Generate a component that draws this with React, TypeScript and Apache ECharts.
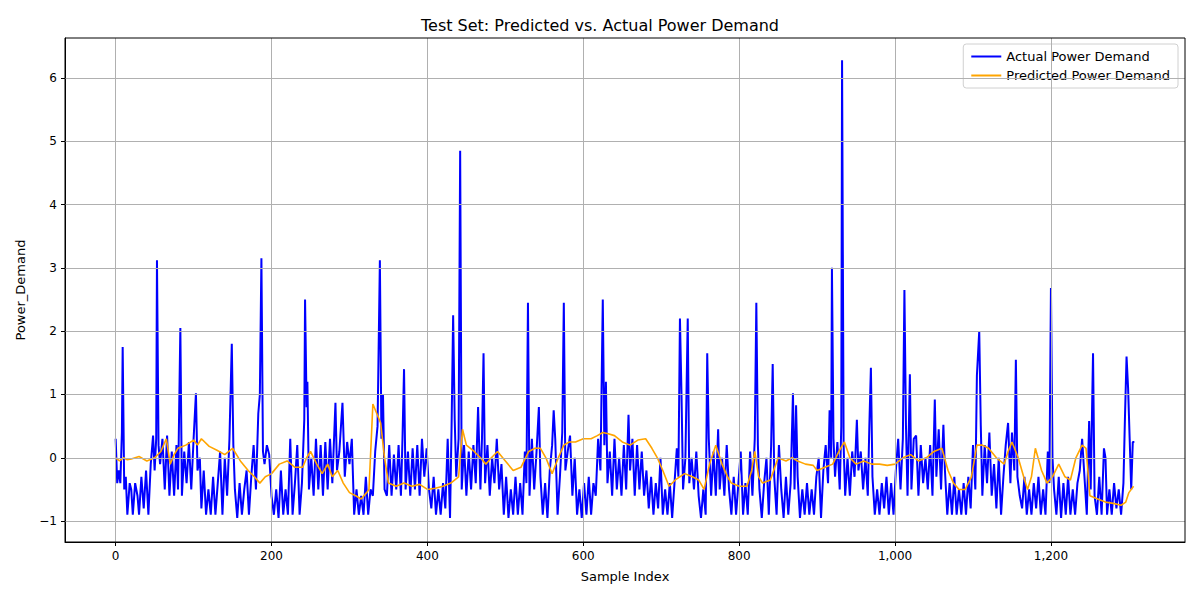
import React, { useEffect, useRef } from "react";
import * as echarts from "echarts";

const actual: [number, number][] = [[0,0.3],[2,-0.4],[4,-0.2],[6,-0.4],[8,0.4],[9,1.75],[11,-0.5],[13,-0.3],[15,-0.9],[18,-0.4],[20,-0.5],[22,-0.9],[25,-0.4],[28,-0.6],[30,-0.9],[33,-0.3],[36,-0.8],[39,-0.2],[42,-0.9],[45,-0.1],[48,0.35],[50,-0.2],[52,0.3],[53,3.12],[55,0.2],[57,-0.1],[60,0.3],[63,-0.5],[66,0.35],[69,-0.6],[72,0.1],[75,-0.6],[78,0.2],[80,-0.5],[83,2.05],[85,-0.6],[88,0.1],[91,-0.4],[94,0.25],[97,-0.5],[100,0.3],[103,1.02],[105,-0.2],[108,0.0],[110,-0.8],[113,-0.2],[116,-0.9],[119,-0.5],[122,-0.9],[125,-0.3],[128,-0.9],[131,-0.4],[134,0.1],[137,-0.9],[140,0.0],[143,-0.6],[146,0.3],[149,1.8],[151,0.2],[153,-0.5],[156,-0.95],[159,-0.4],[162,-0.9],[165,-0.5],[168,-0.2],[171,-0.9],[174,-0.3],[177,0.2],[180,-0.5],[183,0.7],[185,1.0],[187,3.15],[189,0.1],[191,-0.1],[194,0.2],[197,0.05],[200,-0.6],[203,-0.9],[206,-0.5],[209,-0.95],[212,-0.2],[215,-0.9],[218,-0.5],[221,-0.9],[224,0.3],[227,-0.9],[230,-0.4],[233,0.2],[236,-0.9],[239,-0.4],[242,0.6],[243,2.5],[245,0.8],[246,1.2],[248,-0.5],[251,0.0],[254,-0.6],[257,0.3],[260,-0.5],[263,0.2],[266,-0.6],[269,0.25],[272,-0.5],[275,0.3],[278,-0.4],[282,0.87],[284,-0.2],[287,0.1],[291,0.87],[294,-0.3],[297,0.25],[300,-0.1],[303,0.3],[306,-0.9],[309,-0.5],[312,-0.9],[315,-0.6],[318,-0.9],[321,-0.3],[324,-0.9],[327,-0.5],[330,-0.6],[333,0.1],[336,0.5],[339,3.12],[341,0.3],[343,1.0],[345,-0.5],[348,-0.6],[351,0.2],[354,-0.6],[357,0.05],[360,-0.5],[363,0.2],[366,-0.6],[368,0.3],[370,1.4],[372,-0.5],[375,0.1],[378,-0.6],[381,0.15],[384,-0.5],[387,0.2],[390,-0.6],[393,0.3],[396,-0.3],[399,0.15],[402,-0.5],[405,-0.8],[408,-0.3],[411,-0.9],[414,-0.5],[417,-0.9],[420,-0.4],[423,-0.8],[426,0.3],[429,-0.95],[431,0.5],[433,2.25],[435,0.6],[437,-0.3],[440,0.3],[442,4.85],[444,-0.5],[447,0.2],[450,-0.6],[453,0.1],[456,-0.5],[459,0.2],[462,-0.4],[465,0.8],[468,-0.5],[470,0.3],[472,1.65],[474,-0.4],[477,0.2],[480,-0.6],[483,0.0],[486,-0.4],[489,0.3],[492,-0.5],[495,-0.1],[498,-0.9],[501,-0.3],[504,-0.95],[507,-0.5],[510,-0.9],[513,-0.3],[516,-0.9],[519,-0.4],[522,-0.9],[525,0.1],[527,-0.4],[529,2.45],[531,-0.6],[534,0.3],[537,-0.5],[540,0.1],[543,0.8],[545,-0.3],[548,-0.9],[551,-0.4],[554,-0.95],[557,-0.2],[560,0.2],[562,0.75],[564,0.3],[567,-0.9],[570,-0.3],[573,0.4],[575,2.45],[577,-0.2],[580,0.1],[583,0.35],[586,-0.6],[589,0.0],[592,-0.9],[595,-0.5],[598,-0.95],[601,-0.4],[604,-0.9],[607,-0.3],[610,-0.9],[613,-0.4],[616,-0.6],[619,0.3],[622,-0.2],[625,2.5],[627,0.2],[629,1.2],[631,-0.4],[634,0.1],[637,-0.6],[640,0.3],[643,-0.5],[646,0.0],[649,-0.6],[652,0.2],[655,-0.5],[658,0.68],[660,-0.2],[663,0.3],[666,-0.6],[669,0.2],[672,-0.5],[675,0.1],[678,-0.6],[681,-0.2],[684,-0.8],[687,-0.3],[690,-0.9],[693,-0.4],[696,-0.8],[699,0.0],[702,-0.9],[705,-0.5],[708,-0.9],[711,-0.4],[714,-0.95],[717,-0.4],[720,0.15],[722,-0.3],[724,2.2],[726,1.0],[728,-0.5],[731,0.0],[734,2.2],[736,-0.4],[739,0.0],[742,-0.5],[745,0.1],[748,-0.6],[751,-0.95],[754,-0.5],[757,-0.9],[759,1.65],[761,0.3],[764,-0.6],[767,0.1],[770,-0.6],[773,0.45],[775,-0.5],[778,0.0],[781,-0.6],[784,0.2],[787,-0.5],[790,-0.9],[793,-0.3],[796,-0.9],[799,-0.4],[802,0.1],[805,-0.9],[808,-0.4],[811,-0.9],[814,0.1],[817,-0.6],[820,0.3],[822,2.45],[824,0.2],[826,-0.5],[829,-0.95],[832,-0.4],[835,0.0],[838,-0.9],[841,0.2],[843,1.48],[845,-0.3],[848,-0.9],[851,0.2],[854,-0.5],[857,-0.95],[860,-0.3],[863,-0.9],[866,-0.4],[869,1.02],[871,-0.5],[873,0.83],[875,-0.3],[878,-0.95],[881,-0.5],[884,-0.9],[887,-0.4],[890,-0.9],[893,-0.5],[896,-0.9],[899,-0.3],[902,0.0],[905,-0.95],[908,-0.2],[911,0.2],[914,-0.4],[916,0.75],[918,0.0],[919,3.0],[921,0.3],[923,-0.3],[926,0.25],[929,-0.5],[931,0.5],[932,6.28],[934,0.2],[936,-0.6],[939,0.0],[942,-0.6],[945,0.1],[948,-0.3],[951,0.6],[953,-0.2],[956,0.1],[959,-0.5],[962,0.0],[965,-0.6],[967,0.5],[969,1.42],[971,-0.3],[974,-0.9],[977,-0.5],[980,-0.9],[983,-0.4],[986,-0.8],[989,-0.3],[992,-0.9],[995,-0.4],[998,-0.9],[1001,-0.2],[1004,0.3],[1007,-0.5],[1010,0.3],[1012,2.65],[1014,0.5],[1016,-0.6],[1019,1.32],[1021,-0.5],[1024,0.3],[1027,0.35],[1030,-0.6],[1033,0.2],[1036,-0.4],[1039,0.0],[1042,-0.5],[1045,0.2],[1048,-0.6],[1051,0.92],[1053,-0.3],[1056,0.45],[1059,-0.5],[1062,0.52],[1064,-0.2],[1067,-0.9],[1070,-0.4],[1073,-0.9],[1076,-0.3],[1079,-0.9],[1082,-0.5],[1085,-0.9],[1088,-0.4],[1091,-0.9],[1094,-0.3],[1097,-0.8],[1100,0.2],[1103,-0.5],[1105,1.3],[1108,2.0],[1110,0.5],[1112,-0.6],[1115,0.2],[1118,-0.4],[1121,0.4],[1124,-0.6],[1127,-0.1],[1130,-0.8],[1133,0.0],[1136,-0.9],[1139,-0.3],[1142,0.2],[1145,0.55],[1148,-0.4],[1150,0.4],[1153,-0.2],[1155,1.55],[1157,-0.3],[1160,-0.6],[1163,-0.8],[1166,-0.3],[1169,-0.9],[1172,-0.5],[1175,-0.9],[1178,-0.4],[1181,-0.8],[1184,-0.3],[1187,-0.9],[1190,-0.5],[1193,-0.9],[1196,0.1],[1198,-0.4],[1200,2.68],[1202,0.0],[1204,-0.5],[1207,-0.9],[1210,-0.3],[1213,-0.95],[1216,-0.4],[1219,-0.9],[1222,-0.3],[1225,-0.9],[1228,-0.5],[1231,-0.9],[1234,-0.4],[1237,-0.2],[1240,0.3],[1243,-0.3],[1246,-0.9],[1249,0.58],[1251,-0.5],[1254,1.65],[1256,-0.6],[1259,-0.9],[1262,-0.3],[1265,-0.9],[1268,0.15],[1270,0.0],[1272,-0.9],[1275,-0.5],[1278,-0.9],[1281,-0.4],[1284,-0.8],[1287,-0.5],[1290,-0.9],[1293,-0.4],[1295,0.65],[1297,1.6],[1299,1.1],[1301,0.3],[1303,-0.5],[1305,0.25],[1307,0.25]];

const predicted: [number, number][] = [[0,0.0],[5,-0.05],[10,0.0],[15,-0.03],[20,-0.02],[30,0.02],[40,-0.05],[50,0.0],[58,0.1],[65,0.3],[70,-0.1],[75,0.05],[80,0.15],[90,0.2],[100,0.28],[105,0.2],[110,0.3],[120,0.18],[130,0.12],[140,0.05],[150,0.15],[160,-0.05],[170,-0.2],[178,-0.3],[185,-0.4],[192,-0.3],[200,-0.25],[210,-0.1],[220,-0.05],[230,-0.15],[240,-0.15],[245,0.0],[250,0.1],[258,-0.1],[265,-0.25],[272,-0.1],[278,-0.3],[285,-0.2],[292,-0.4],[300,-0.55],[308,-0.6],[315,-0.65],[322,-0.55],[325,-0.5],[328,0.3],[330,0.85],[335,0.7],[340,0.55],[345,0.0],[350,-0.4],[360,-0.45],[370,-0.4],[380,-0.45],[390,-0.42],[400,-0.5],[410,-0.48],[420,-0.45],[430,-0.4],[440,-0.3],[445,0.45],[450,0.2],[460,0.1],[468,0.0],[475,-0.1],[482,0.0],[490,0.1],[500,-0.05],[510,-0.2],[520,-0.15],[530,0.1],[538,0.15],[545,0.15],[552,0.0],[560,-0.25],[568,0.0],[575,0.2],[582,0.25],[590,0.25],[600,0.3],[610,0.3],[618,0.35],[625,0.4],[632,0.38],[640,0.35],[650,0.25],[660,0.2],[670,0.28],[680,0.3],[688,0.15],[695,0.0],[702,-0.2],[710,-0.45],[718,-0.35],[730,-0.25],[740,-0.3],[748,-0.35],[755,-0.5],[762,-0.1],[770,0.2],[778,-0.1],[785,-0.3],[790,-0.4],[800,-0.45],[810,-0.45],[816,-0.2],[820,0.1],[825,-0.3],[830,-0.4],[840,-0.35],[850,0.0],[860,-0.05],[868,0.0],[875,-0.05],[885,-0.1],[895,-0.12],[900,-0.2],[910,-0.15],[920,-0.1],[928,0.1],[935,0.25],[942,0.0],[950,-0.1],[960,-0.05],[970,-0.1],[980,-0.1],[990,-0.12],[1000,-0.1],[1010,0.0],[1020,0.05],[1030,-0.05],[1040,0.0],[1050,0.1],[1060,0.15],[1068,-0.2],[1075,-0.4],[1082,-0.5],[1090,-0.5],[1098,-0.3],[1105,0.2],[1112,0.2],[1120,0.15],[1130,0.0],[1140,-0.1],[1145,0.1],[1150,0.25],[1158,0.0],[1165,-0.3],[1170,-0.5],[1175,-0.3],[1180,0.15],[1188,-0.2],[1195,-0.4],[1202,-0.3],[1210,-0.1],[1218,-0.3],[1225,-0.35],[1232,0.0],[1240,0.2],[1245,0.15],[1250,-0.6],[1260,-0.65],[1270,-0.7],[1280,-0.72],[1290,-0.75],[1296,-0.7],[1300,-0.55],[1306,-0.45]];

const xTicks = [0, 200, 400, 600, 800, 1000, 1200];
const yTicks = [-1, 0, 1, 2, 3, 4, 5, 6];

export default function App() {
  const ref = useRef<HTMLDivElement>(null);
  useEffect(() => {
    document.body.style.margin = "0";
    const chart = echarts.init(ref.current!, null, { renderer: "svg" });
    const font = "DejaVu Sans";
    chart.setOption({
      animation: false,
      textStyle: { fontFamily: font },
      title: {
        text: "Test Set: Predicted vs. Actual Power Demand",
        left: "center",
        top: 12,
        textStyle: { fontSize: 16, fontWeight: "normal", color: "#000", fontFamily: font },
      },
      legend: {
        right: 22,
        top: 44,
        orient: "vertical",
        itemWidth: 30,
        itemHeight: 2,
        itemGap: 6,
        padding: [6, 8],
        borderColor: "#d0d0d0",
        borderWidth: 1,
        borderRadius: 3,
        backgroundColor: "rgba(255,255,255,0.8)",
        textStyle: { fontSize: 13, color: "#000", fontFamily: font },
        data: [
          { name: "Actual Power Demand", icon: "rect" },
          { name: "Predicted Power Demand", icon: "rect" },
        ],
      },
      grid: { left: 65, right: 15, top: 38, bottom: 58 },
      xAxis: {
        type: "value",
        min: -65,
        max: 1372,
        name: "Sample Index",
        nameLocation: "middle",
        nameGap: 28,
        nameTextStyle: { fontSize: 13, color: "#000" },
        axisLine: { show: true, onZero: false, lineStyle: { color: "#000" } },
        axisTick: { show: true, customValues: xTicks, length: 4, inside: false, lineStyle: { color: "#000" } },
        axisLabel: { customValues: xTicks, color: "#000", fontSize: 12 },
        splitLine: { show: false },
      },
      yAxis: {
        type: "value",
        min: -1.33,
        max: 6.63,
        name: "Power_Demand",
        nameLocation: "middle",
        nameGap: 38,
        nameTextStyle: { fontSize: 13, color: "#000" },
        axisLine: { show: true, onZero: false, lineStyle: { color: "#000" } },
        axisTick: { show: true, customValues: yTicks, length: 4, lineStyle: { color: "#000" } },
        axisLabel: { customValues: yTicks, color: "#000", fontSize: 12, formatter: (v: number) => (v < 0 ? "\u2212" + Math.abs(v) : String(v)) },
        splitLine: { show: false },
      },
      graphic: [
        { type: "rect", shape: { x: 65, y: 38, width: 1120, height: 504 }, style: { fill: "none", stroke: "#000", lineWidth: 1 }, z: 100, silent: true },
      ],
      series: [
        {
          name: "grid-x",
          type: "line",
          data: [],
          markLine: {
            silent: true,
            symbol: "none",
            label: { show: false },
            lineStyle: { color: "#b0b0b0", type: "solid", width: 1 },
            data: [...xTicks.map((v) => ({ xAxis: v })), ...yTicks.map((v) => ({ yAxis: v }))],
          },
        },
        {
          name: "Actual Power Demand",
          type: "line",
          data: actual,
          showSymbol: false,
          lineStyle: { color: "#0000ff", width: 2 },
          itemStyle: { color: "#0000ff" },
          z: 3,
        },
        {
          name: "Predicted Power Demand",
          type: "line",
          data: predicted,
          showSymbol: false,
          lineStyle: { color: "#ffa500", width: 1.6 },
          itemStyle: { color: "#ffa500" },
          z: 4,
        },
      ],
    });
    return () => chart.dispose();
  }, []);
  return <div ref={ref} style={{ width: 1200, height: 600 }} />;
}
